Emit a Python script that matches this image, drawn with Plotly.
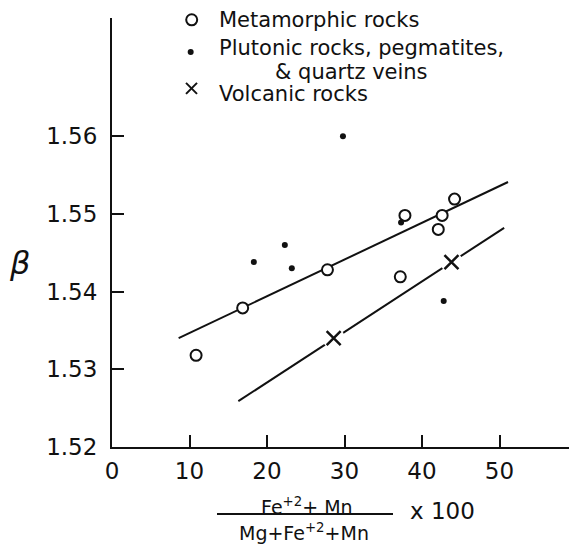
import plotly.graph_objects as go

# ---- data ----
meta_x = [10.85, 16.86, 27.8, 37.2, 37.8, 42.6, 42.1, 44.2]
meta_y = [1.5318, 1.5379, 1.5428, 1.5419, 1.5498, 1.5498, 1.5480, 1.5519]

pluto_x = [18.3, 22.3, 23.2, 29.8, 37.3, 42.8]
pluto_y = [1.5438, 1.5460, 1.5430, 1.5600, 1.5489, 1.5388]

volc_x = [28.6, 43.8]
volc_y = [1.5340, 1.5438]

upper_fit_x = [8.6, 51.1]
upper_fit_y = [1.5340, 1.5541]
lower_fit_x = [16.3, 50.6]
lower_fit_y = [1.5259, 1.5482]

x_ticks = [0, 10, 20, 30, 40, 50]
y_ticks = [1.52, 1.53, 1.54, 1.55, 1.56]
y_tick_text = ["1.52", "1.53", "1.54", "1.55", "1.56"]

FONT = "DejaVu Sans"
BLACK = "#111111"

fig = go.Figure()

# fit lines
fig.add_trace(go.Scatter(x=upper_fit_x, y=upper_fit_y, mode="lines",
                         line=dict(color=BLACK, width=2), showlegend=False, hoverinfo="skip"))
fig.add_trace(go.Scatter(x=lower_fit_x, y=lower_fit_y, mode="lines",
                         line=dict(color=BLACK, width=2), showlegend=False, hoverinfo="skip"))
# white masks giving the gaps around the crosses
fig.add_trace(go.Scatter(x=volc_x, y=volc_y, mode="markers",
                         marker=dict(symbol="circle", size=22, color="white"),
                         showlegend=False, hoverinfo="skip"))
# metamorphic: open circles
fig.add_trace(go.Scatter(x=meta_x, y=meta_y, mode="markers", name="Metamorphic rocks",
                         marker=dict(symbol="circle", size=11, color="white",
                                     line=dict(color=BLACK, width=2)), showlegend=False))
# plutonic: dots
fig.add_trace(go.Scatter(x=pluto_x, y=pluto_y, mode="markers", name="Plutonic rocks",
                         marker=dict(symbol="circle", size=6, color=BLACK), showlegend=False))
# volcanic: crosses
fig.add_trace(go.Scatter(x=volc_x, y=volc_y, mode="markers", name="Volcanic rocks",
                         marker=dict(symbol="x-thin", size=14, color=BLACK,
                                     line=dict(color=BLACK, width=2.5)), showlegend=False))

# the page body adds an 8px margin, so the figure is sized/offset to compensate
fig.update_layout(
    width=569, height=536,
    margin=dict(l=104, r=0, t=10, b=97, autoexpand=False),
    paper_bgcolor="white", plot_bgcolor="white",
    font=dict(family=FONT, color=BLACK, size=22),
    xaxis=dict(range=[0, 60], tickvals=x_ticks, ticks="inside", ticklen=12, tickwidth=2,
               tickcolor=BLACK, showline=True, linewidth=2, linecolor=BLACK,
               showgrid=False, zeroline=False, tickfont=dict(size=23, family=FONT),
               ticklabelstandoff=2, automargin=False),
    yaxis=dict(range=[1.52, 1.5752], tickvals=y_ticks, ticktext=y_tick_text,
               ticks="inside", ticklen=12, tickwidth=2, tickcolor=BLACK,
               showline=True, linewidth=2, linecolor=BLACK, showgrid=False, zeroline=False,
               tickfont=dict(size=23, family=FONT), ticklabelstandoff=8, automargin=False),
)

ann = []
def add_text(text, x, y, size, xanchor="left", yanchor="middle"):
    ann.append(dict(text=text, x=x, y=y, xref="paper", yref="paper", showarrow=False,
                    xanchor=xanchor, yanchor=yanchor, font=dict(family=FONT, size=size, color=BLACK)))

# legend texts
add_text("Metamorphic rocks", 0.2258, 0.9953, 21)
add_text("Plutonic rocks, pegmatites,", 0.2258, 0.930, 21)
add_text("& quartz veins", 0.3462, 0.875, 21)
add_text("Volcanic rocks", 0.2258, 0.823, 21)
# y label
add_text("<i>β</i>", -0.20, 0.429, 32, xanchor="center")
# x axis title (fraction)
add_text("Fe<sup>+2</sup>+ Mn", 0.419, -0.1375, 19, xanchor="center")
add_text("Mg+Fe<sup>+2</sup>+Mn", 0.412, -0.198, 19, xanchor="center")
add_text("x 100", 0.7097, -0.149, 23, xanchor="center")
fig.update_layout(annotations=ann)

shapes = []
# fraction bar
shapes.append(dict(type="line", xref="paper", yref="paper", x0=0.2258, x1=0.6043,
                   y0=-0.1562, y1=-0.1562, line=dict(color=BLACK, width=2)))
# legend symbols (pixel sized, anchored in paper coordinates)
def pix_shape(kind, ax, ay, x0, x1, y0, y1, **kw):
    d = dict(type=kind, xref="paper", yref="paper", xsizemode="pixel", ysizemode="pixel",
             xanchor=ax, yanchor=ay, x0=x0, x1=x1, y0=y0, y1=y1)
    d.update(kw)
    shapes.append(d)

pix_shape("circle", 0.1714, 0.9958, -5.5, 5.5, -5.5, 5.5,
          line=dict(color=BLACK, width=2), fillcolor="white")
pix_shape("circle", 0.1692, 0.921, -3, 3, -3, 3,
          line=dict(color=BLACK, width=0), fillcolor=BLACK)
pix_shape("line", 0.171, 0.836, -5.5, 5.5, -5.5, 5.5, line=dict(color=BLACK, width=2))
pix_shape("line", 0.171, 0.836, -5.5, 5.5, 5.5, -5.5, line=dict(color=BLACK, width=2))
fig.update_layout(shapes=shapes)

fig.write_html("out.html")
